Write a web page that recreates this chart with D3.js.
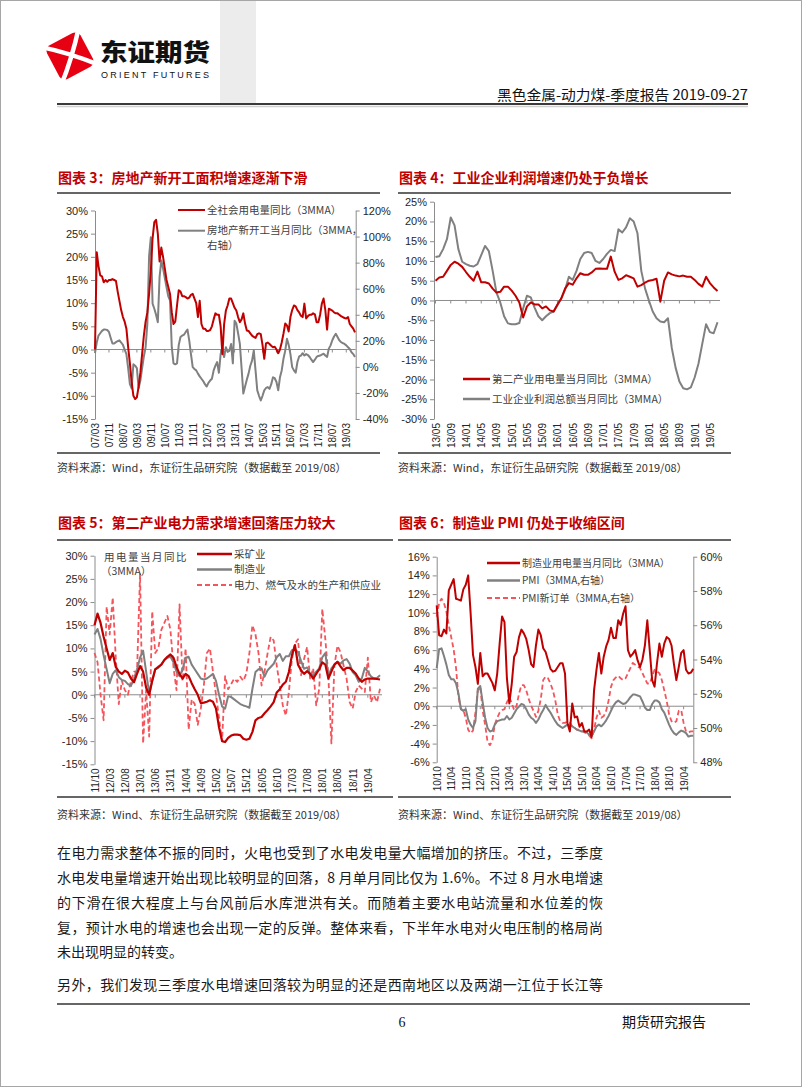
<!DOCTYPE html>
<html><head><meta charset="utf-8">
<script src="https://cdn.jsdelivr.net/npm/d3@7"></script>
<style>
html,body{margin:0;padding:0;background:#fff;}
svg{display:block;}
</style></head>
<body><svg id="page" width="802" height="1087"></svg>
<script>
// ---------- categories ----------
function months(y0, m0, n){const out=[];let y=y0,m=m0;for(let i=0;i<n;i++){out.push(String(y%100).padStart(2,"0")+"/"+String(m).padStart(2,"0"));m++;if(m>12){m=1;y++;}}return out;}
const c3Cats = months(2007,3,150);
const c4Cats = months(2013,5,75);
const c5Cats = months(2011,10,95);
const c6Cats = months(2010,10,107);

// ---------- tick labels ----------
const c3Ticks = ["07/03","07/11","08/07","09/03","09/11","10/07","11/03","11/11","12/07","13/03","13/11","14/07","15/03","15/11","16/07","17/03","17/11","18/07","19/03"];
const c4Ticks = ["13/05","13/09","14/01","14/05","14/09","15/01","15/05","15/09","16/01","16/05","16/09","17/01","17/05","17/09","18/01","18/05","18/09","19/01","19/05"];
const c5Ticks = ["11/10","12/03","12/08","13/01","13/06","13/11","14/04","14/09","15/02","15/07","15/12","16/05","16/10","17/03","17/08","18/01","18/06","18/11","19/04"];
const c6Ticks = ["10/10","11/04","11/10","12/04","12/10","13/04","13/10","14/04","14/10","15/04","15/10","16/04","16/10","17/04","17/10","18/04","18/10","19/04"];
const c3LeftTicks = [-15,-10,-5,0,5,10,15,20,25,30];
const c3RightTicks = [-40,-20,0,20,40,60,80,100,120];
const c4LeftTicks = [-30,-25,-20,-15,-10,-5,0,5,10,15,20,25];
const c5LeftTicks = [-15,-10,-5,0,5,10,15,20,25,30];
const c6LeftTicks = [-6,-4,-2,0,2,4,6,8,10,12,14,16];
const c6RightTicks = [48,50,52,54,56,58,60];

// ---------- series (%, 3MMA) ----------
// 图表3: 全社会用电量同比 (left) / 房地产新开工当月同比 (right)
const c3Power = [
 0,21,18,16,15.8,14.5,15,14.6,15,15,
 15.2,15,14.8,12.5,10.5,8.5,7,6,4.5,0.5,
 -3,-7,-10,-10.7,-10.3,-8,-5,-1,3,6,
 8,12,17,24,27.5,28,25,19,22,20,
 17.5,15,13.5,12,8,5.5,6,9.5,12.8,12.5,
 11.5,11.5,11.3,11,11.2,11.8,12,11,10,7,
 10.5,5.5,4.5,4.5,4,4,4.2,5,6.5,7.8,
 7.5,7.5,5,-1,5.5,8.4,9.5,11,11,10,
 9,8.4,7,5.9,6.5,7.8,5.6,4.1,4,3.5,
 3,2.7,2.5,3.3,3.5,3.3,1,-2,1.3,1.5,
 1.2,0.8,0.5,0.6,0,-0.8,0,1.5,3.4,5.6,
 5.2,3.9,7,8.5,9.5,9.3,8.5,8,7.3,7,
 9.9,6.7,7.2,7.5,7.5,7.8,7.6,5.9,5.9,7.5,
 9.9,11,8.5,4.3,8.8,8.6,8.4,8,7.8,7.8,
 7.5,7.2,7,6.8,6.7,7,5.5,5,4.5,3.7];
const c3Property = [
 10.5,18.7,24,25.8,27.6,28.6,28.6,28.3,26.8,22.2,
 17.9,17.9,19,19.7,20.4,18.7,16.9,13.3,9.8,-0.9,
 -13.3,-16.5,2,0.9,-0.9,-16.5,-10.5,-0.9,8,15.1,
 33.2,85,99.4,48.5,44.6,40,34.3,68.8,81.6,75.6,
 68.4,61,54.2,51,15.1,2.7,2,2.7,16.9,22.9,
 24,24.7,26.8,28.6,20.4,9.8,-0.2,-1.6,-2.7,-5.2,
 -7.3,-9.1,-10.9,-13.3,-15.1,-12.3,-10.5,-9.1,-2.7,0.9,
 3.7,-4.5,9.8,15.1,7.6,15.1,11.5,12.3,17.6,2.7,
 35.4,33.2,25.8,17.9,-0.9,-20.5,-15.1,-9.8,-5.2,0.9,
 4.8,12.6,-2.7,-18,-22.2,-25.8,-22.2,-18,-16.2,-15.5,
 -16.9,-13.3,-8,-8.7,-11.6,-18,-8,-2.7,6.2,12.3,
 21.5,16.9,9.8,-0.2,-2.7,-4.5,3.7,8,8.7,10.5,
 8.7,9.8,9.1,7.6,5.5,3.7,5.5,7.6,8.4,8.7,
 9.4,10.1,8.7,7.6,14,16.5,20.4,23.3,25.4,22.9,
 20.4,19,18.3,17.6,16.5,15.1,13.7,11.2,9.8,7.6];

// 图表4: 第二产业用电量当月同比 / 工业企业利润总额当月同比
const c4Power = [
 5,5.8,6,7.5,9,9.8,9.3,8.5,7.2,6,
 5,7.3,4.6,4.6,4.3,3,2,2.2,3.5,3.5,
 2.5,1.2,-0.5,-4.3,-1.5,-0.5,-1,-1,-2,-1.5,
 -2.5,-2.8,-1,0.5,3,4.4,4,5.6,6.9,6.5,
 6.5,7.1,8,8.1,8,8,11.1,7.3,5.2,5.6,
 6.4,6,5.6,3.5,3.9,4.5,5,5.2,5.5,-0.3,
 5,7.1,6.6,6.3,6.1,6.3,6,6,5.2,4.2,
 3.5,6,4.4,3.3,2.4];
const c4Profit = [
 11,11.2,13,15.5,21,19,13,9.8,9.2,8.8,
 8.6,9.2,11.5,13.8,12.5,7.5,2,-0.5,-4,-5.8,
 -6,-6,-5.7,-2,1.2,0.8,-1.8,-4,-5,-4,
 -3.2,-2.8,-1.2,0.5,2.7,6,5.2,7.5,10.5,12,
 12.3,12,10,9.5,10.5,11.8,12.8,12.5,18,17.2,
 18.5,20.8,20,17,7.5,3,0,-2.8,-4.5,-5.3,
 -5.5,-4.5,-12,-17,-20.5,-22.2,-22.5,-22,-19.5,-16,
 -11,-6,-8,-8.3,-5.5];

// 图表5: 用电量当月同比 (3MMA)
const c5Mining = [
 15,17.5,15.5,12.5,10,7.5,9,6,5,4.5,
 5.2,4.8,3.5,2.7,4.5,6.2,5,1.5,0,3,
 5.5,6,6.5,7.5,8.2,8.7,8,6,4.5,3.5,
 4.5,4,2.5,1.2,0,-1.8,-1.7,-1.5,-1.2,-1.5,
 -3,-7,-10,-10.2,-9.3,-8.8,-8.6,-8.6,-8.7,-9.5,
 -9.7,-9.5,-8,-5.5,-5,-4.8,-4,-3.3,-2.5,-1.6,
 0.5,1.2,2.2,2.8,4.9,8.5,10.7,6.5,5.3,4.5,
 5.1,4.5,3.5,4.5,5.5,7,6.5,3.5,5,6.5,
 7.1,6.1,5.3,5.8,5.8,5.2,4.6,3.5,2.8,3.3,
 3.5,3.5,3.5,3.4,3.3];
const c5Manuf = [
 13,14.2,12,8.5,5.5,2.5,4.5,5.3,3.8,3.2,
 3,2.3,1.9,3.5,5.5,8,9.5,5,0.2,3,
 5.5,5.8,6.5,7.5,8,8.2,7,5,4,5.5,
 8,8.2,6.5,5.5,4.5,3.5,3.3,3.5,4,4.5,
 3,0,-2.5,-3,-0.3,-0.5,-1,-1.5,-2,-2.3,
 -2.5,-2.8,1.3,4.9,5.5,5.7,3.9,5.3,6,6.7,
 8.1,8.8,7.3,8.3,8.3,9.6,9.8,9.2,7.3,5.6,
 5.9,4.5,4.2,5,5.7,8.1,9,4,5.7,6.5,
 7.1,6.7,7.4,7.7,6.7,4.9,4.2,2.8,3.5,5.8,
 5,4,3.5,3.6,4.2];
const c5Utility = [
 9,7,0,-5.5,19,13,21,8,-2,3,
 1,0,3,5,5,26,-10.5,1,-9,18,
 9,10,14,15.5,17,14,6,1,19.5,3,
 10,-7.5,-1,-2,-6.5,-3,2,9,10,5,
 0,-5,-10,4,1.2,2.3,3.5,2.8,3.9,3,
 4.6,9,15,13,9,2,5,9,12.5,11.7,
 6.3,2,-2.3,-4.5,0.6,7.7,11,12,4.2,7.7,
 10.3,3.5,5.7,-2.3,1.3,18.5,12,4,-10.5,6.3,
 10.6,9.2,6.3,3.5,-1.6,-3,0.6,2,1.3,0.6,
 8,-1.6,-0.1,-1.6,1.3];

// 图表6: 制造业用电量当月同比 (left) / PMI, PMI新订单 (right)
const c6Power = [
 10.8,7.6,7.5,8.2,7.8,12.4,13,13.6,11.5,11.4,
 11.3,12.5,13,14,10,5.5,4.2,2.4,5.7,3.2,
 3.5,3.5,3,2.5,1.7,3.5,6.7,9.6,9,3,
 0.3,2.4,5.3,5.8,7.4,8.2,7.8,7.2,6,4.5,
 4.2,6.5,8.2,7.6,6.2,5.8,4.9,4,3.7,3.8,
 4.2,4.6,4.6,3.5,-1.8,-2.7,0.3,-1.2,-1.1,-2.2,
 -1.8,-2.7,-2.7,-2.5,-3.3,1.7,3.9,5.7,3.5,5.3,
 6.4,7.1,8.4,7.3,7.3,9.2,8.7,9.9,10.7,6,
 5.3,5.6,6,4.9,4.2,5,6.5,9.2,6,2.8,
 2.1,4.6,6.7,5.3,6.7,7.4,7.2,6.5,4.5,2.8,
 4.2,5.7,6,3.9,3.5,3.6,4];
const c6PMI = [
 53.5,54.6,54.65,54.2,53.7,53.1,52.85,52.85,52.6,52,
 51.1,51,51.1,50.5,50.2,50,50.4,52.3,52.45,51.5,
 50.6,50,49.8,49.85,50.2,50.4,50.45,50.5,50.5,50.7,
 50.5,50.6,50.85,51.1,51.25,51.4,51.35,51.1,50.8,50.6,
 50.5,50.3,50.5,50.8,51.05,51.35,51.1,50.9,50.65,50.4,
 50.2,50.1,50,50.1,50.2,50.15,50.1,50,49.9,49.85,
 49.8,49.8,49.75,49.6,49.55,49.8,50.1,50.2,50.1,50.25,
 50.45,50.7,51,51.3,51.5,51.6,51.5,51.4,51.45,51.6,
 51.8,51.95,51.95,51.9,51.85,51.55,51.2,51.05,51.05,51.4,
 51.6,51.6,51.5,51.1,50.9,50.55,50.2,49.9,49.7,49.6,
 49.75,49.85,49.8,49.7,49.5,49.55,49.55];
const c6NewOrder = [
 56.5,57.3,57.55,57.3,56.8,56,55.3,54.6,53.5,51.8,
 51.1,51.05,50.6,49.9,49.7,49.85,50.9,52.2,52.4,51,
 50.2,49.2,49,49.3,50.2,50.6,50.9,51.05,51.1,51.5,
 51.8,51.45,51.05,51.3,52,52.5,52.5,52.2,51.7,51.3,
 51,50.65,51,51.7,52.8,53,52.9,52.6,52.2,51.6,
 50.8,50.4,50.3,50.3,50.4,50.3,50.1,50,49.9,49.9,
 49.85,49.75,49.7,49.55,49.4,49.9,50.6,51,50.6,50.7,
 51,51.6,52.4,52.8,52.95,53.05,52.9,52.8,52.9,53.2,
 53.5,53.8,53.7,53.6,53.5,53.2,52.9,52.6,52.6,53,
 53.4,53.3,53.2,52.8,52.2,51.6,50.8,50.4,50.3,50.4,
 51,51.05,50.3,49.8,49.75,49.8,49.8];

// ---------- styles ----------
const RED="#c00000", GRAY="#808080", PINK="#f4555c", AXIS="#8c8c8c", TXT="#262626";
const LAT="'Liberation Sans', Arial, sans-serif";
const CJK="'Noto Sans CJK SC', sans-serif";

const svg=d3.select("#page");

// ---------- page frame & header ----------
svg.append("rect").attr("x",0.5).attr("y",0.5).attr("width",801).attr("height",1086).attr("fill","#fff").attr("stroke","#a6a6a6");
svg.append("rect").attr("x",220).attr("y",1).attr("width",36).attr("height",102).attr("fill","#ececec");

// logo
const logo=svg.append("g").attr("transform","translate(70,56) rotate(-28)");
logo.append("rect").attr("x",-19).attr("y",-19).attr("width",38).attr("height",38).attr("rx",6).attr("fill","#e60012");
logo.append("path").attr("d","M-22,-22 Q0,-4 22,22 M-22,22 Q0,4 22,-22").attr("stroke","#fff").attr("stroke-width",4.5).attr("fill","none");
svg.append("text").attr("x",100).attr("y",61).attr("font-family",CJK).attr("font-weight",900).attr("font-size",24)
  .attr("textLength",110).attr("lengthAdjust","spacingAndGlyphs").attr("fill","#111").text("东证期货");
svg.append("text").attr("x",101).attr("y",78).attr("font-family",LAT).attr("font-size",9)
  .attr("textLength",108).attr("lengthAdjust","spacing").attr("fill","#111").text("ORIENT FUTURES");

svg.append("text").attr("x",748).attr("y",100).attr("text-anchor","end").attr("font-family",CJK).attr("font-size",14)
  .attr("textLength",251).attr("lengthAdjust","spacingAndGlyphs")
  .attr("fill","#111").text("黑色金属-动力煤-季度报告 2019-09-27");
svg.append("line").attr("x1",57).attr("x2",748).attr("y1",104).attr("y2",104).attr("stroke","#3a3a3a").attr("stroke-width",2);
svg.append("line").attr("x1",57).attr("x2",748).attr("y1",106.5).attr("y2",106.5).attr("stroke","#cfcfcf").attr("stroke-width",1.5);

// ---------- chart frame pieces ----------
function block(x0,x1,title,titleY,topY,botY,srcY,src){
  svg.append("text").attr("x",x0+1).attr("y",titleY).attr("font-family",CJK).attr("font-weight",700).attr("font-size",14)
    .attr("fill",RED).text(title);
  svg.append("line").attr("x1",x0).attr("x2",x1).attr("y1",topY).attr("y2",topY).attr("stroke","#333").attr("stroke-width",1.5);
  svg.append("line").attr("x1",x0).attr("x2",x1).attr("y1",botY).attr("y2",botY).attr("stroke","#333").attr("stroke-width",1.5);
  svg.append("text").attr("x",x0).attr("y",srcY).attr("font-family",CJK).attr("font-size",11).attr("fill","#333").text(src);
}
block(57,380,"图表 3：房地产新开工面积增速逐渐下滑",183,193,453,472,"资料来源：Wind，东证衍生品研究院（数据截至 2019/08）");
block(398,731,"图表 4：工业企业利润增速仍处于负增长",183,193,453,472,"资料来源：Wind，东证衍生品研究院（数据截至 2019/08）");
block(57,393,"图表 5：第二产业电力需求增速回落压力较大",528,540,797,819,"资料来源：Wind、东证衍生品研究院（数据截至 2019/08）");
block(398,731,"图表 6：制造业 PMI 仍处于收缩区间",528,540,797,819,"资料来源：Wind、东证衍生品研究院（数据截至 2019/08）");

// ---------- generic chart ----------
function chart(o){
  const g=svg.append("g");
  const x=d3.scalePoint().domain(o.cats).range([o.xL,o.xR]);
  const y=d3.scaleLinear().domain(o.yDom).range([o.yB,o.yT]);
  let yr=null;
  const la=g.append("g").attr("transform",`translate(${o.axL},0)`)
    .call(d3.axisLeft(y).tickValues(o.yTicks).tickFormat(d=>d+"%").tickSize(4).tickSizeOuter(0).tickPadding(3));
  if(o.yDomR){
    yr=d3.scaleLinear().domain(o.yDomR).range([o.yB,o.yT]);
    const ra=g.append("g").attr("transform",`translate(${o.axR},0)`)
      .call(d3.axisRight(yr).tickValues(o.yTicksR).tickFormat(d=>d+"%").tickSize(4).tickSizeOuter(0).tickPadding(3));
    styleAxis(ra);
  }
  styleAxis(la);
  g.append("line").attr("x1",o.axL).attr("x2",o.zeroR).attr("y1",y(0)).attr("y2",y(0)).attr("stroke",AXIS).attr("stroke-width",1);
  g.selectAll(".ct").data(o.ticks).enter().append("line")
    .attr("x1",d=>x(d)).attr("x2",d=>x(d)).attr("y1",y(0)).attr("y2",y(0)+3).attr("stroke",AXIS);
  const xa=g.append("g").attr("transform",`translate(0,${o.yB})`).call(d3.axisBottom(x).tickValues(o.ticks).tickSize(0));
  xa.select(".domain").remove();
  xa.selectAll("text").attr("transform","rotate(-90)").attr("x",-4).attr("y",0).attr("dy","0.35em")
    .attr("text-anchor","end").attr("font-size",10).attr("font-family",LAT).attr("fill",TXT);
  o.series.forEach(s=>{
    const ys=s.right?yr:y;
    const line=d3.line().x((d,i)=>x(o.cats[i])).y(d=>ys(d)).curve(d3.curveLinear);
    g.append("path").datum(s.values).attr("d",line).attr("fill","none").attr("stroke",s.color)
      .attr("stroke-width",s.w).attr("stroke-linejoin","round").attr("stroke-dasharray",s.dash||null);
  });
  return g;
}
function styleAxis(a){
  a.attr("font-family",LAT).attr("font-size",11);
  a.select(".domain").attr("stroke",AXIS);
  a.selectAll(".tick line").attr("stroke",AXIS);
  a.selectAll(".tick text").attr("fill",TXT);
}
function legend(x1,x2,y,color,w,dash,label,size){
  svg.append("line").attr("x1",x1).attr("x2",x2).attr("y1",y).attr("y2",y).attr("stroke",color).attr("stroke-width",w).attr("stroke-dasharray",dash||null);
  svg.append("text").attr("x",x2+2).attr("y",y).attr("dy","0.35em").attr("font-family",CJK).attr("font-size",size||10)
    .attr("fill","#404040").text(label);
}

// 图表3
chart({cats:c3Cats,ticks:c3Ticks,xL:95,xR:355,axL:95,axR:355.7,zeroR:355.7,yT:210.5,yB:419,
  yDom:[-15,30],yTicks:c3LeftTicks,yDomR:[-40,120],yTicksR:c3RightTicks,
  series:[{values:c3Property,color:GRAY,w:2,right:true},{values:c3Power,color:RED,w:2}]});
legend(178,205,210,RED,2,null,"全社会用电量同比（3MMA）",10.5);
legend(178,205,230.7,GRAY,2,null,"房地产新开工当月同比（3MMA，",10.5);
svg.append("text").attr("x",207).attr("y",245).attr("dy","0.35em").attr("font-family",CJK).attr("font-size",10.5).attr("fill","#404040").text("右轴）");

// 图表4
chart({cats:c4Cats,ticks:c4Ticks,xL:435.5,xR:717.5,axL:434,zeroR:720,yT:201.7,yB:419,
  yDom:[-30,25],yTicks:c4LeftTicks,
  series:[{values:c4Profit,color:GRAY,w:2},{values:c4Power,color:RED,w:2}]});
legend(463,490,379,RED,2.5,null,"第二产业用电量当月同比（3MMA）",10.5);
legend(463,490,399,GRAY,2.5,null,"工业企业利润总额当月同比（3MMA）",10.5);

// 图表5
chart({cats:c5Cats,ticks:c5Ticks,xL:94.5,xR:380,axL:94.5,zeroR:382,yT:555.7,yB:764.3,
  yDom:[-15,30],yTicks:c5LeftTicks,
  series:[{values:c5Utility,color:PINK,w:1.8,dash:"5,3"},{values:c5Manuf,color:GRAY,w:2},{values:c5Mining,color:RED,w:2.2}]});
svg.append("text").attr("x",104).attr("y",557).attr("dy","0.35em").attr("font-family",CJK).attr("font-size",10.5).attr("fill","#404040").attr("letter-spacing",1.5).text("用电量当月同比");
svg.append("text").attr("x",101).attr("y",571).attr("dy","0.35em").attr("font-family",CJK).attr("font-size",10.5).attr("fill","#404040").text("（3MMA）");
legend(197,232,554,RED,2.5,null,"采矿业",10.5);
legend(197,232,569.5,GRAY,2.5,null,"制造业",10.5);
legend(197,232,585,PINK,2,"5,3","电力、燃气及水的生产和供应业",10.5);

// 图表6
chart({cats:c6Cats,ticks:c6Ticks,xL:436.7,xR:693.3,axL:436.7,axR:693.3,zeroR:693.3,yT:556.7,yB:762.3,
  yDom:[-6,16],yTicks:c6LeftTicks,yDomR:[48,60],yTicksR:c6RightTicks,
  series:[{values:c6NewOrder,color:PINK,w:1.8,dash:"5,3",right:true},{values:c6PMI,color:GRAY,w:2,right:true},{values:c6Power,color:RED,w:2}]});
legend(487,520,563,RED,2.5,null,"制造业用电量当月同比（3MMA）",10);
legend(487,520,580.5,GRAY,2.5,null,"PMI（3MMA,右轴）",10);
legend(487,520,598,PINK,2,"5,3","PMI新订单（3MMA,右轴）",10);

// ---------- body text ----------
const para=[
 ["在电力需求整体不振的同时，火电也受到了水电发电量大幅增加的挤压。不过，三季度",858,true],
 ["水电发电量增速开始出现比较明显的回落，8 月单月同比仅为 1.6%。不过 8 月水电增速",883,true],
 ["的下滑在很大程度上与台风前后水库泄洪有关。而随着主要水电站流量和水位差的恢",908,true],
 ["复，预计水电的增速也会出现一定的反弹。整体来看，下半年水电对火电压制的格局尚",933,true],
 ["未出现明显的转变。",957,false],
 ["另外，我们发现三季度水电增速回落较为明显的还是西南地区以及两湖一江位于长江等",990,true]];
para.forEach(p=>{
  const t=svg.append("text").attr("x",57).attr("y",p[1]).attr("font-family",CJK).attr("font-size",14).attr("fill","#1a1a1a").text(p[0]);
  if(p[2]) t.attr("textLength",546).attr("lengthAdjust","spacing");
});

// ---------- footer ----------
svg.append("line").attr("x1",57).attr("x2",750).attr("y1",1004).attr("y2",1004).attr("stroke","#333").attr("stroke-width",1.5);
svg.append("text").attr("x",402).attr("y",1027).attr("text-anchor","middle").attr("font-family","'Liberation Serif', serif").attr("font-size",14).attr("fill","#111").text("6");
svg.append("text").attr("x",706).attr("y",1027).attr("text-anchor","end").attr("font-family",CJK).attr("font-size",14).attr("fill","#111").text("期货研究报告");
</script></body></html>
